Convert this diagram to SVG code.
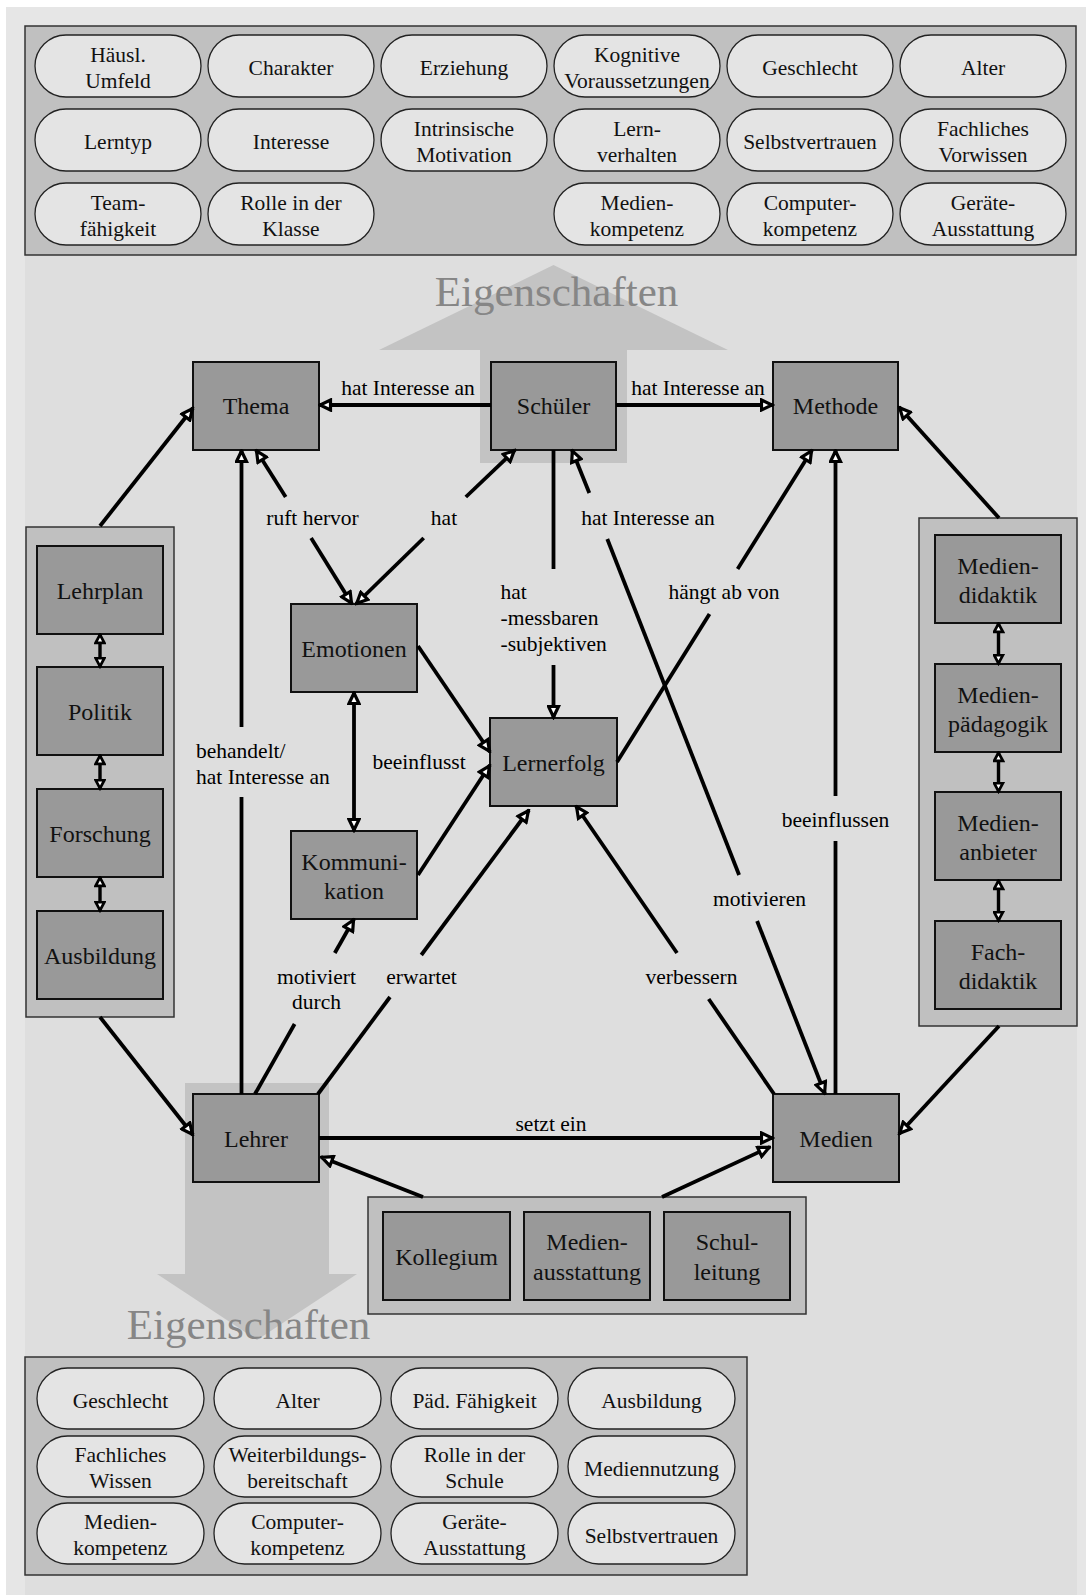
<svg xmlns="http://www.w3.org/2000/svg" width="1086" height="1595" viewBox="0 0 1086 1595">
<style>
.box{fill:#999999;stroke:#111;stroke-width:2}
.cont{fill:#c0c0c0;stroke:#333;stroke-width:1.5}
.pill{fill:#e4e4e4;stroke:#222;stroke-width:1.3}
.shadow{fill:#c3c3c3}
.t24{font-family:"Liberation Serif",serif;font-size:24px;fill:#111;text-anchor:middle}
.t21{font-family:"Liberation Serif",serif;font-size:21.5px;fill:#111;text-anchor:middle}
.lbl{font-family:"Liberation Serif",serif;font-size:21.5px;fill:#000;text-anchor:middle}
.lbs{font-family:"Liberation Serif",serif;font-size:21.5px;fill:#000;text-anchor:start}
.eig{font-family:"Liberation Serif",serif;font-size:43px;fill:#868686;text-anchor:middle}
.e{fill:none;stroke:#000;stroke-width:3.8}
.ea{fill:none;stroke:#000;stroke-width:3.8;marker-end:url(#a)}
.es{fill:none;stroke:#000;stroke-width:3.8;marker-start:url(#a)}
.eb{fill:none;stroke:#000;stroke-width:3.8;marker-start:url(#a);marker-end:url(#a)}
.ed{fill:none;stroke:#000;stroke-width:3.4;marker-start:url(#s);marker-end:url(#s)}
</style>
<defs>
<marker id="a" viewBox="0 0 15 14" refX="13.5" refY="7" markerWidth="15" markerHeight="14" markerUnits="userSpaceOnUse" orient="auto-start-reverse">
<path d="M2,2 L12.5,7 L2,12 Z" fill="#fff" stroke="#000" stroke-width="3.2" stroke-linejoin="miter"/>
</marker>
<marker id="s" viewBox="0 0 12 12" refX="10.5" refY="6" markerWidth="12" markerHeight="12" markerUnits="userSpaceOnUse" orient="auto-start-reverse">
<path d="M1.6,1.6 L9.8,6 L1.6,10.4 Z" fill="#fff" stroke="#000" stroke-width="2.8"/>
</marker>
</defs>

<rect x="0" y="0" width="1086" height="1595" fill="#ffffff"/>
<rect x="6" y="7" width="1080" height="1588" fill="#e6e6e6"/>
<rect x="25" y="26" width="1052" height="1569" fill="#dedede"/>

<g id="shadows">
<polygon class="shadow" points="480,463 480,350 379,350 553.5,265 728,350 627,350 627,463"/>
<polygon class="shadow" points="185,1083 329,1083 329,1274 357,1274 257,1340 157,1274 185,1274"/>
<text class="eig" x="556.5" y="306">Eigenschaften</text>
<text class="eig" x="248.5" y="1339">Eigenschaften</text>
</g>

<g id="schueler-eigenschaften">
<rect class="cont" x="25" y="26" width="1051" height="229"/>
<rect class="pill" x="35" y="35" width="166" height="62" rx="31"/>
<rect class="pill" x="208" y="35" width="166" height="62" rx="31"/>
<rect class="pill" x="381" y="35" width="166" height="62" rx="31"/>
<rect class="pill" x="554" y="35" width="166" height="62" rx="31"/>
<rect class="pill" x="727" y="35" width="166" height="62" rx="31"/>
<rect class="pill" x="900" y="35" width="166" height="62" rx="31"/>
<rect class="pill" x="35" y="109" width="166" height="62" rx="31"/>
<rect class="pill" x="208" y="109" width="166" height="62" rx="31"/>
<rect class="pill" x="381" y="109" width="166" height="62" rx="31"/>
<rect class="pill" x="554" y="109" width="166" height="62" rx="31"/>
<rect class="pill" x="727" y="109" width="166" height="62" rx="31"/>
<rect class="pill" x="900" y="109" width="166" height="62" rx="31"/>
<rect class="pill" x="35" y="183" width="166" height="62" rx="31"/>
<rect class="pill" x="208" y="183" width="166" height="62" rx="31"/>
<rect class="pill" x="554" y="183" width="166" height="62" rx="31"/>
<rect class="pill" x="727" y="183" width="166" height="62" rx="31"/>
<rect class="pill" x="900" y="183" width="166" height="62" rx="31"/>
<text class="t21" x="118" y="62">Häusl.</text><text class="t21" x="118" y="87.5">Umfeld</text>
<text class="t21" x="291" y="74.5">Charakter</text>
<text class="t21" x="464" y="74.5">Erziehung</text>
<text class="t21" x="637" y="62">Kognitive</text><text class="t21" x="637" y="87.5">Voraussetzungen</text>
<text class="t21" x="810" y="74.5">Geschlecht</text>
<text class="t21" x="983" y="74.5">Alter</text>
<text class="t21" x="118" y="148.5">Lerntyp</text>
<text class="t21" x="291" y="148.5">Interesse</text>
<text class="t21" x="464" y="136">Intrinsische</text><text class="t21" x="464" y="161.5">Motivation</text>
<text class="t21" x="637" y="136">Lern-</text><text class="t21" x="637" y="161.5">verhalten</text>
<text class="t21" x="810" y="148.5">Selbstvertrauen</text>
<text class="t21" x="983" y="136">Fachliches</text><text class="t21" x="983" y="161.5">Vorwissen</text>
<text class="t21" x="118" y="210">Team-</text><text class="t21" x="118" y="235.5">fähigkeit</text>
<text class="t21" x="291" y="210">Rolle in der</text><text class="t21" x="291" y="235.5">Klasse</text>
<text class="t21" x="637" y="210">Medien-</text><text class="t21" x="637" y="235.5">kompetenz</text>
<text class="t21" x="810" y="210">Computer-</text><text class="t21" x="810" y="235.5">kompetenz</text>
<text class="t21" x="983" y="210">Geräte-</text><text class="t21" x="983" y="235.5">Ausstattung</text>
</g>

<g id="lehrer-eigenschaften">
<rect class="cont" x="25" y="1357" width="722" height="218"/>
<rect class="pill" x="37" y="1368" width="167" height="61" rx="30.5"/>
<rect class="pill" x="214" y="1368" width="167" height="61" rx="30.5"/>
<rect class="pill" x="391" y="1368" width="167" height="61" rx="30.5"/>
<rect class="pill" x="568" y="1368" width="167" height="61" rx="30.5"/>
<rect class="pill" x="37" y="1436" width="167" height="61" rx="30.5"/>
<rect class="pill" x="214" y="1436" width="167" height="61" rx="30.5"/>
<rect class="pill" x="391" y="1436" width="167" height="61" rx="30.5"/>
<rect class="pill" x="568" y="1436" width="167" height="61" rx="30.5"/>
<rect class="pill" x="37" y="1503" width="167" height="61" rx="30.5"/>
<rect class="pill" x="214" y="1503" width="167" height="61" rx="30.5"/>
<rect class="pill" x="391" y="1503" width="167" height="61" rx="30.5"/>
<rect class="pill" x="568" y="1503" width="167" height="61" rx="30.5"/>
<text class="t21" x="120.5" y="1407.5">Geschlecht</text>
<text class="t21" x="297.5" y="1407.5">Alter</text>
<text class="t21" x="474.5" y="1407.5">Päd. Fähigkeit</text>
<text class="t21" x="651.5" y="1407.5">Ausbildung</text>
<text class="t21" x="120.5" y="1462">Fachliches</text><text class="t21" x="120.5" y="1488">Wissen</text>
<text class="t21" x="297.5" y="1462">Weiterbildungs-</text><text class="t21" x="297.5" y="1488">bereitschaft</text>
<text class="t21" x="474.5" y="1462">Rolle in der</text><text class="t21" x="474.5" y="1488">Schule</text>
<text class="t21" x="651.5" y="1475.5">Mediennutzung</text>
<text class="t21" x="120.5" y="1529">Medien-</text><text class="t21" x="120.5" y="1555">kompetenz</text>
<text class="t21" x="297.5" y="1529">Computer-</text><text class="t21" x="297.5" y="1555">kompetenz</text>
<text class="t21" x="474.5" y="1529">Geräte-</text><text class="t21" x="474.5" y="1555">Ausstattung</text>
<text class="t21" x="651.5" y="1542.5">Selbstvertrauen</text>
</g>

<g id="thema"><rect class="box" x="193" y="362" width="126" height="88"/><text class="t24" x="256" y="414">Thema</text></g>
<g id="schueler"><rect class="box" x="491" y="362" width="125" height="88"/><text class="t24" x="553.5" y="414">Schüler</text></g>
<g id="methode"><rect class="box" x="773" y="362" width="125" height="88"/><text class="t24" x="835.5" y="414">Methode</text></g>
<g id="emotionen"><rect class="box" x="291" y="604" width="126" height="88"/><text class="t24" x="354" y="656.5">Emotionen</text></g>
<g id="kommunikation"><rect class="box" x="291" y="831" width="126" height="88"/><text class="t24" x="354" y="869.5">Kommuni-</text><text class="t24" x="354" y="898.5">kation</text></g>
<g id="lernerfolg"><rect class="box" x="490" y="718" width="127" height="88"/><text class="t24" x="553.5" y="770.5">Lernerfolg</text></g>
<g id="lehrer"><rect class="box" x="193" y="1094" width="126" height="88"/><text class="t24" x="256" y="1146.5">Lehrer</text></g>
<g id="medien"><rect class="box" x="773" y="1094" width="126" height="88"/><text class="t24" x="836" y="1146.5">Medien</text></g>

<g id="rahmen-links">
<rect class="cont" x="26" y="527" width="148" height="490"/>
<rect class="box" x="37" y="546" width="126" height="88"/><text class="t24" x="100" y="598.5">Lehrplan</text>
<rect class="box" x="37" y="667" width="126" height="88"/><text class="t24" x="100" y="719.5">Politik</text>
<rect class="box" x="37" y="789" width="126" height="88"/><text class="t24" x="100" y="841.5">Forschung</text>
<rect class="box" x="37" y="911" width="126" height="88"/><text class="t24" x="100" y="963.5">Ausbildung</text>
</g>

<g id="rahmen-rechts">
<rect class="cont" x="919" y="518" width="158" height="508"/>
<rect class="box" x="935" y="535" width="126" height="88"/><text class="t24" x="998" y="573.5">Medien-</text><text class="t24" x="998" y="602.5">didaktik</text>
<rect class="box" x="935" y="664" width="126" height="88"/><text class="t24" x="998" y="702.5">Medien-</text><text class="t24" x="998" y="731.5">pädagogik</text>
<rect class="box" x="935" y="792" width="126" height="88"/><text class="t24" x="998" y="830.5">Medien-</text><text class="t24" x="998" y="859.5">anbieter</text>
<rect class="box" x="935" y="921" width="126" height="88"/><text class="t24" x="998" y="959.5">Fach-</text><text class="t24" x="998" y="988.5">didaktik</text>
</g>

<g id="rahmen-unten">
<rect class="cont" x="368" y="1197" width="438" height="117"/>
<rect class="box" x="383" y="1212" width="127" height="88"/><text class="t24" x="446.5" y="1264.5">Kollegium</text>
<rect class="box" x="524" y="1212" width="126" height="88"/><text class="t24" x="587" y="1250">Medien-</text><text class="t24" x="587" y="1279.5">ausstattung</text>
<rect class="box" x="664" y="1212" width="126" height="88"/><text class="t24" x="727" y="1250">Schul-</text><text class="t24" x="727" y="1279.5">leitung</text>
</g>

<g id="connectors">
<path class="ea" d="M491,405 H319"/>
<path class="ea" d="M616,405 H773"/>
<path class="ea" d="M100,526 L193,408"/>
<path class="ea" d="M100,1017 L193,1135"/>
<path class="ea" d="M999,518 L899,407"/>
<path class="ea" d="M999,1026 L899,1134"/>
<path class="e" d="M241.5,1094 V797"/>
<path class="ea" d="M241.5,727 V450"/>
<path class="es" d="M256,450 L285.7,497"/>
<path class="ea" d="M311.1,538 L352,604"/>
<path class="es" d="M515,450 L465.8,497"/>
<path class="ea" d="M423.7,538 L356,604"/>
<path class="e" d="M553.5,450 V569"/>
<path class="ea" d="M553.5,665 V718"/>
<path class="es" d="M572,450 L589.3,493"/>
<path class="e" d="M607.3,539 L739.1,875"/>
<path class="ea" d="M757.1,921 L825,1094"/>
<path class="e" d="M617,762 L709.5,614"/>
<path class="ea" d="M737.6,569 L812,450"/>
<path class="e" d="M835.5,1094 V841"/>
<path class="ea" d="M835.5,796 V450"/>
<path class="e" d="M774,1094 L708.7,999"/>
<path class="ea" d="M677,953 L576,806"/>
<path class="e" d="M318,1094 L390,997"/>
<path class="ea" d="M421.3,955 L529,810"/>
<path class="e" d="M255,1094 L294.6,1024"/>
<path class="ea" d="M334.8,953 L354,919"/>
<path class="ea" d="M418,646 L490,752"/>
<path class="ea" d="M418,875 L490,765"/>
<path class="eb" d="M354,692 V831"/>
<path class="ea" d="M319,1138 H773"/>
<path class="ea" d="M423,1197 L321,1157"/>
<path class="ea" d="M662,1197 L770,1147"/>
<path class="ed" d="M100,634 V667"/>
<path class="ed" d="M100,755 V789"/>
<path class="ed" d="M100,877 V911"/>
<path class="ed" d="M998.5,623 V664"/>
<path class="ed" d="M998.5,752 V792"/>
<path class="ed" d="M998.5,880 V921"/>
<text class="lbl" x="408" y="395">hat Interesse an</text>
<text class="lbl" x="698" y="395">hat Interesse an</text>
<text class="lbl" x="312.5" y="525">ruft hervor</text>
<text class="lbl" x="444" y="525">hat</text>
<text class="lbl" x="648" y="525">hat Interesse an</text>
<text class="lbs" x="500.5" y="598.5">hat</text>
<text class="lbs" x="500.5" y="624.5">-messbaren</text>
<text class="lbs" x="500.5" y="651">-subjektiven</text>
<text class="lbl" x="724" y="598.5">hängt ab von</text>
<text class="lbs" x="196" y="758">behandelt/</text>
<text class="lbs" x="196" y="784">hat Interesse an</text>
<text class="lbs" x="372.5" y="769">beeinflusst</text>
<text class="lbl" x="835.5" y="827">beeinflussen</text>
<text class="lbl" x="759.5" y="905.5">motivieren</text>
<text class="lbl" x="316.5" y="984">motiviert</text>
<text class="lbl" x="316.5" y="1009">durch</text>
<text class="lbl" x="421.5" y="984">erwartet</text>
<text class="lbl" x="691.5" y="984">verbessern</text>
<text class="lbl" x="551" y="1131">setzt ein</text>
</g>
</svg>
